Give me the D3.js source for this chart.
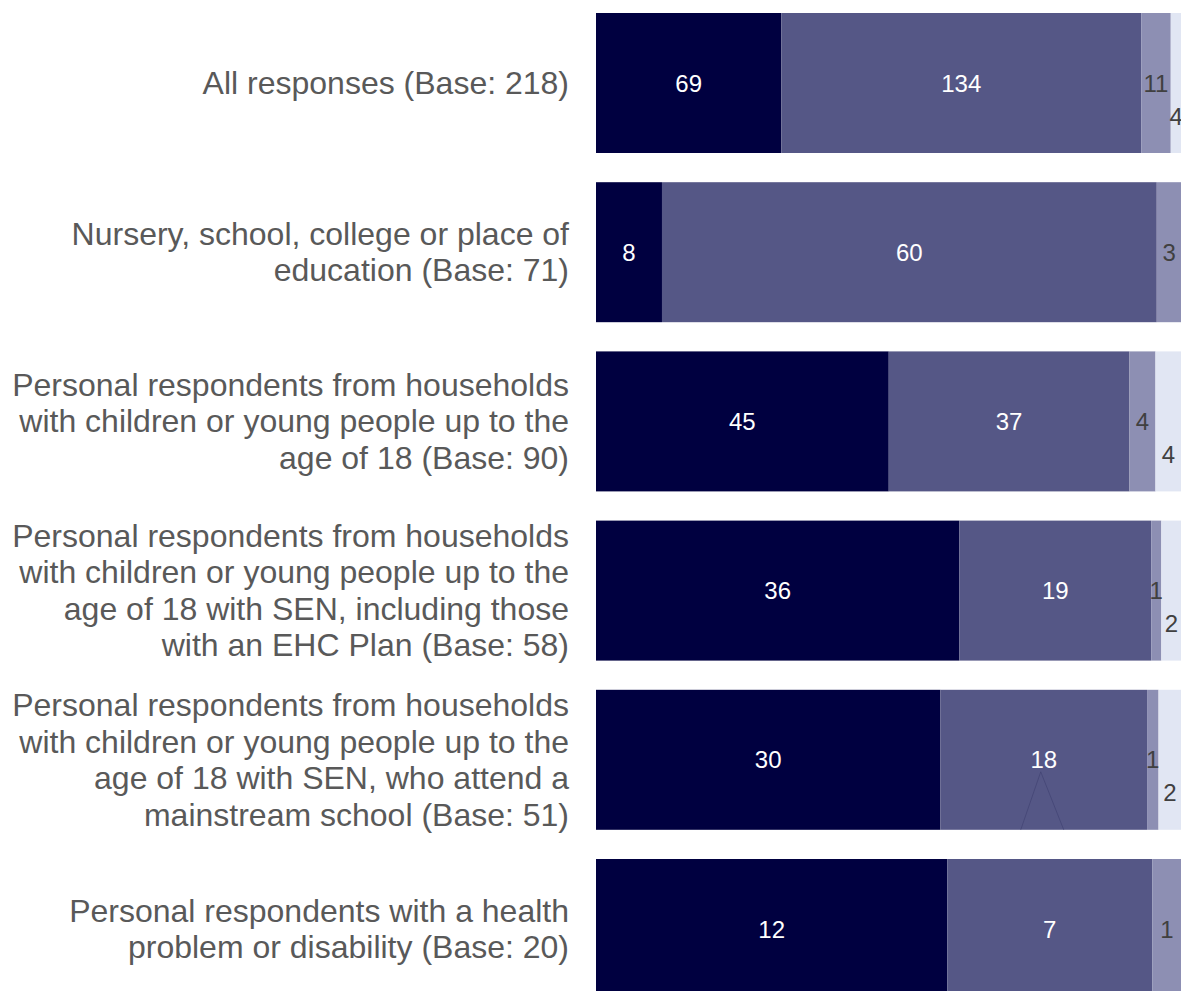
<!DOCTYPE html>
<html>
<head>
<meta charset="utf-8">
<script src="https://cdn.jsdelivr.net/npm/d3@7"></script>
<style>
html,body{margin:0;padding:0;background:#fff;overflow:hidden;}
svg{display:block;}
</style>
</head>
<body>
<div id="chart"></div>
<script>
const categories = [
  "All responses (Base: 218)",
  "Nursery, school, college or place of education (Base: 71)",
  "Personal respondents from households with children or young people up to the age of 18 (Base: 90)",
  "Personal respondents from households with children or young people up to the age of 18 with SEN, including those with an EHC Plan (Base: 58)",
  "Personal respondents from households with children or young people up to the age of 18 with SEN, who attend a mainstream school (Base: 51)",
  "Personal respondents with a health problem or disability (Base: 20)"
];
const categoryLines = [
  ["All responses (Base: 218)"],
  ["Nursery, school, college or place of", "education (Base: 71)"],
  ["Personal respondents from households", "with children or young people up to the", "age of 18 (Base: 90)"],
  ["Personal respondents from households", "with children or young people up to the", "age of 18 with SEN, including those", "with an EHC Plan (Base: 58)"],
  ["Personal respondents from households", "with children or young people up to the", "age of 18 with SEN, who attend a", "mainstream school (Base: 51)"],
  ["Personal respondents with a health", "problem or disability (Base: 20)"]
];
const seriesNames = ["Series 1", "Series 2", "Series 3", "Series 4"];
const series1 = [69, 8, 45, 36, 30, 12];
const series2 = [134, 60, 37, 19, 18, 7];
const series3 = [11, 3, 4, 1, 1, 1];
const series4 = [4, 0, 4, 2, 2, 0];
const colors = ["#000040", "#555786", "#8d8fb3", "#e1e6f3"];
const labelColors = ["#ffffff", "#ffffff", "#404040", "#404040"];

const W = 1181, H = 991;
const svg = d3.select("#chart").append("svg").attr("width", W).attr("height", H)
  .style("font-family", "Arial, 'Liberation Sans', sans-serif");

const rows = categories.map((c, i) => {
  const r = {cat: c};
  r[seriesNames[0]] = series1[i];
  r[seriesNames[1]] = series2[i];
  r[seriesNames[2]] = series3[i];
  r[seriesNames[3]] = series4[i];
  return r;
});
const stack = d3.stack().keys(seriesNames).offset(d3.stackOffsetExpand);
const stacked = stack(rows);

const x = d3.scaleLinear().domain([0, 1]).range([596, 1181.5]);
const y = d3.scaleBand().domain(categories).range([-1.6, 1013.6]).paddingInner(0.1726).paddingOuter(0.0863);

const layers = svg.selectAll("g.layer").data(stacked).enter().append("g")
  .attr("class", "layer").attr("fill", (d, i) => colors[i]);
layers.selectAll("rect").data(d => d.map(v => ({v, cat: v.data.cat})))
  .enter().append("rect")
  .attr("x", d => x(d.v[0]))
  .attr("y", d => y(d.cat))
  .attr("width", d => Math.max(0, x(d.v[1]) - x(d.v[0])))
  .attr("height", y.bandwidth());

// leader line artifact in row 5
{
  const cat = categories[4];
  const s = stacked[1][4];
  const cx = (x(s[0]) + x(s[1])) / 2;
  const top = y(cat) + y.bandwidth() / 2 + 12;
  const bot = y(cat) + y.bandwidth();
  svg.append("path")
    .attr("d", `M${cx - 23},${bot} L${cx - 3},${top} L${cx + 20},${bot}`)
    .attr("fill", "none").attr("stroke", "#3e4070").attr("stroke-width", 1).attr("opacity", 0.6);
}

// value labels
stacked.forEach((layer, si) => {
  layer.forEach((v) => {
    const val = v.data[seriesNames[si]];
    if (!val) return;
    const cx = (x(v[0]) + x(v[1])) / 2;
    const cy = y(v.data.cat) + y.bandwidth() / 2 + (si === 3 ? 33 : 0);
    svg.append("text")
      .attr("x", cx).attr("y", cy)
      .attr("text-anchor", "middle").attr("dominant-baseline", "central")
      .attr("font-size", 24).attr("fill", labelColors[si])
      .text(val);
  });
});

// category labels
const lh = 36.5;
categoryLines.forEach((lines, i) => {
  const cy = y(categories[i]) + y.bandwidth() / 2;
  const t = svg.append("text")
    .attr("text-anchor", "end").attr("font-size", 32).attr("fill", "#595959");
  lines.forEach((ln, j) => {
    t.append("tspan").attr("x", 569)
      .attr("y", cy + (j - (lines.length - 1) / 2) * lh)
      .attr("dominant-baseline", "central")
      .text(ln);
  });
});
</script>
</body>
</html>
